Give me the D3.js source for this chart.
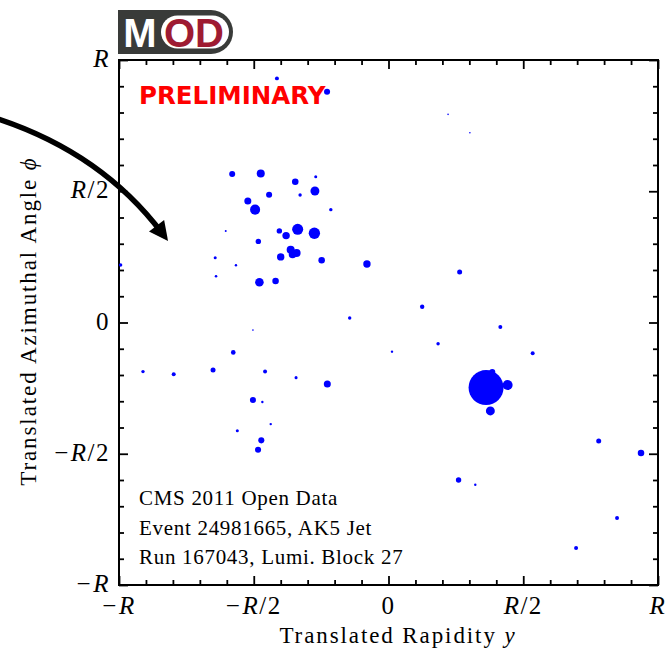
<!DOCTYPE html>
<meta charset="utf-8">
<script src="https://d3js.org/d3.v7.min.js"></script>
<style>
body { margin: 0; background: white; }
.serif { font-family: "Liberation Serif", "Times New Roman", serif; fill: black; }
.axis line { stroke: black; stroke-width: 1.8px; }
.axis path { display: none; }
</style>
<div id="chart"></div>
<script>
// particle positions in units of the jet radius R, marker size ~ pT
var rapidity = [-0.580,-0.474,-0.346,-0.270,-0.273,-0.443,-0.328,-0.522,-0.495,-0.214,
  -0.604,-0.405,-0.337,-0.275,-0.380,-0.483,-0.363,-0.341,-0.356,-0.643,
  -0.400,-0.248,-0.566,-0.640,-0.479,-0.419,-0.080,-0.994,-0.414,-0.228,
  0.221,0.302,-0.144,-0.503,0.013,-0.576,-0.911,-0.797,-0.651,-0.458,
  -0.343,-0.227,-0.503,-0.468,-0.437,-0.561,-0.472,-0.484,0.125,0.415,
  0.184,0.535,0.362,0.385,0.442,0.378,0.780,0.937,0.260,0.322,
  0.848,0.696,0.264];
var phi = [0.566,0.568,0.536,0.555,0.501,0.487,0.486,0.463,0.430,0.430,
  0.349,0.349,0.355,0.340,0.331,0.309,0.277,0.265,0.259,0.247,
  0.250,0.237,0.218,0.176,0.153,0.158,0.223,0.219,0.930,0.879,
  0.793,0.723,0.017,-0.029,-0.111,-0.114,-0.187,-0.197,-0.181,-0.187,
  -0.210,-0.234,-0.295,-0.303,-0.387,-0.412,-0.449,-0.485,0.060,-0.017,
  -0.081,-0.117,-0.248,-0.189,-0.238,-0.337,-0.451,-0.497,-0.600,-0.618,
  -0.745,-0.859,0.192];
var pt = [11.8,21,14,3,26,12,3.8,16,33,3.8,
  1.3,9.5,40,42,18,9.5,21,21,19,3,
  18,14,1.9,2.2,24,14,18,3.8,5.2,12,
  0.84,0.84,3.8,0.84,1.9,7,3.8,5.2,8.2,5.2,
  3,16,12,1.9,1.9,3,12,12,6.3,5.2,
  3.8,5.2,400,12,33,26,8.2,14,9.5,1.9,
  5.2,5.2,8.2];

var tickVals = [-1, -0.5, 0, 0.5, 1];
var tickLabels = ["\u2212R", "\u2212R/2", "0", "R/2", "R"];
var infoLines = ["CMS 2011 Open Data", "Event 24981665, AK5 Jet", "Run 167043, Lumi. Block 27"];

var W = 668, H = 649;
var svg = d3.select("#chart").append("svg").attr("width", W).attr("height", H);

var x = d3.scaleLinear().domain([-1, 1]).range([119, 658]);
var y = d3.scaleLinear().domain([-1, 1]).range([585, 60]);
var r = d3.scaleSqrt().domain([0, 400]).range([0, 17.5]);

var minorVals = d3.range(-10, 11).map(function(i) { return i / 10; })
  .filter(function(v) { return tickVals.indexOf(v) < 0; });

// ticks on all four sides, pointing inward
function drawAxis(axisFn, scale, tr) {
  svg.append("g").attr("class", "axis").attr("transform", tr)
    .call(axisFn(scale).tickValues(tickVals).tickSize(-9).tickFormat(""));
  svg.append("g").attr("class", "axis").attr("transform", tr)
    .call(axisFn(scale).tickValues(minorVals).tickSize(-5).tickFormat(""));
}
drawAxis(d3.axisBottom, x, "translate(0,585)");
drawAxis(d3.axisTop, x, "translate(0,60)");
drawAxis(d3.axisLeft, y, "translate(119,0)");
drawAxis(d3.axisRight, y, "translate(658,0)");

svg.append("rect").attr("x", 119).attr("y", 60).attr("width", 539).attr("height", 525)
  .attr("fill", "none").attr("stroke", "black").attr("stroke-width", 2);

// labels with italic R
function mathLabel(t, s) {
  s.split(/(R)/).forEach(function(part) {
    if (!part) return;
    var ts = t.append("tspan").text(part);
    if (part == "R") ts.style("font-style", "italic");
    if (part == "\u2212") ts.style("letter-spacing", "2.5px");
  });
}
tickVals.forEach(function(v, i) {
  var t = svg.append("text").attr("class", "serif").style("font-size", "25px")
    .attr("x", x(v)).attr("y", 614).attr("text-anchor", "middle").style("letter-spacing", "1.5px");
  mathLabel(t, tickLabels[i]);
  var t2 = svg.append("text").attr("class", "serif").style("font-size", "25px")
    .attr("x", 110).attr("y", y(v) + 7).attr("text-anchor", "end").style("letter-spacing", "1.5px");
  mathLabel(t2, tickLabels[i]);
});

var xl = svg.append("text").attr("class", "serif").style("font-size", "23px").style("letter-spacing", "1.9px")
  .attr("x", 398).attr("y", 643).attr("text-anchor", "middle").text("Translated Rapidity ");
xl.append("tspan").style("font-style", "italic").text("y");

var yl = svg.append("text").attr("class", "serif").style("font-size", "23px").style("letter-spacing", "1.9px")
  .attr("transform", "translate(36,321) rotate(-90)").attr("text-anchor", "middle").text("Translated Azimuthal Angle ");
yl.append("tspan").style("font-style", "italic").text("\u03d5");

// particles
svg.append("g").selectAll("circle").data(d3.range(pt.length)).enter().append("circle")
  .attr("cx", function(i) { return x(rapidity[i]); })
  .attr("cy", function(i) { return y(phi[i]); })
  .attr("r", function(i) { return r(pt[i]); })
  .attr("fill", "#0000ff");

// info text
svg.append("g").selectAll("text").data(infoLines).enter().append("text").attr("class", "serif")
  .style("font-size", "21px").style("letter-spacing", "0.7px")
  .attr("x", 139).attr("y", function(d, i) { return 505 + i * 29.5; })
  .text(function(d) { return d; });

svg.append("text").attr("x", 139).attr("y", 104)
  .style("font-family", "DejaVu Sans").style("font-weight", "bold").style("font-size", "24.5px")
  .attr("fill", "#ff0000").text("PRELIMINARY");

// MOD logo
var logo = svg.append("g");
logo.append("path").attr("fill", "#393b39")
  .attr("d", "M118,10 H211 A22,22 0 0 1 211,54 H118 Z");
logo.append("rect").attr("x", 161).attr("y", 15.5).attr("width", 68).attr("height", 33).attr("rx", 16.5)
  .attr("fill", "white");
logo.append("text").attr("x", 140).attr("y", 46.5).attr("text-anchor", "middle")
  .style("font-family", "Liberation Sans").style("font-weight", "bold").style("font-size", "40px")
  .attr("fill", "white").text("M");
logo.append("text").attr("x", 194).attr("y", 46.5).attr("text-anchor", "middle")
  .style("font-family", "Liberation Sans").style("font-weight", "bold").style("font-size", "40px")
  .attr("fill", "#9e1b32").text("OD");

// curved arrow
var p0 = [-8, 117], p1 = [100, 151], p2 = [162, 233];
var ap = d3.path();
ap.moveTo(p0[0], p0[1]);
ap.quadraticCurveTo(p1[0], p1[1], p2[0], p2[1]);
svg.append("path").attr("d", ap.toString()).attr("fill", "none")
  .attr("stroke", "black").attr("stroke-width", 5.5);
var ang = Math.atan2(p2[1] - p1[1], p2[0] - p1[0]);
var tip = [p2[0] + 10 * Math.cos(ang), p2[1] + 10 * Math.sin(ang)];
var back = [tip[0] - 19 * Math.cos(ang), tip[1] - 19 * Math.sin(ang)];
var hw = 9.5;
svg.append("path").attr("fill", "black").attr("d",
  "M" + tip[0] + "," + tip[1] +
  "L" + (back[0] - hw * Math.sin(ang)) + "," + (back[1] + hw * Math.cos(ang)) +
  "L" + (back[0] + hw * Math.sin(ang)) + "," + (back[1] - hw * Math.cos(ang)) + "Z");
</script>
